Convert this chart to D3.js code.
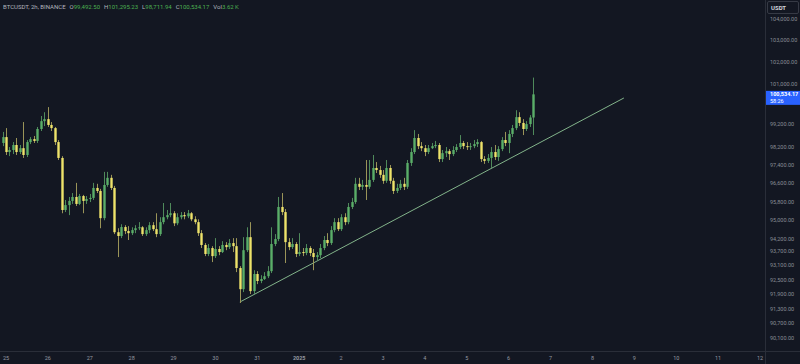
<!DOCTYPE html>
<html lang="en">
<head>
  <meta charset="utf-8">
  <title>BTCUSDT 2h</title>
  <script src="https://d3js.org/d3.v7.min.js"></script>
  <style>
    html, body { margin: 0; padding: 0; background: #131722; overflow: hidden; }
    svg { display: block; }
  </style>
</head>
<body>
<script>
// 2h candles, the first one opens Dec 24 22:00 UTC
var firstCandle = Date.UTC(2024, 11, 24, 22);
var stepHours = 2;
var firstOpen = 98360;

var closes = [
  98620, 97960, 98050, 98270, 97960, 98130, 97830, 98400, 98530, 98450,
  98980, 99330, 99420, 99160, 99020, 98400, 97700, 95440, 95650, 95830,
  96000, 95700, 96040, 95830, 95910, 95960, 96390, 96260, 95090, 96520,
  96830, 96390, 94490, 94330, 94710, 94540, 94450, 94580, 94660, 94700,
  94410, 94580, 94790, 94620, 94410, 94920, 95130, 95220, 95300, 94870,
  95130, 95220, 95170, 95300, 95040, 94920, 94450, 93950, 93570, 93820,
  93480, 93780, 93650, 93950, 93860, 94030, 93900, 92980, 92100, 93730,
  94280, 92020, 92730, 92440, 92520, 92640, 92850, 93990, 94200, 95570,
  95350, 94070, 93860, 93990, 93570, 93650, 93610, 93820, 93610, 93440,
  93520, 93820, 94160, 94030, 94580, 94920, 94620, 95130, 94920, 95570,
  95780, 96570, 96440, 96520, 96440, 96740, 97260, 97170, 96960, 96700,
  97260, 96700, 96260, 96390, 96570, 96440, 97480, 97960, 98580, 98220,
  98130, 97960, 98130, 98220, 98270, 97650, 97910, 98000, 97870, 98050,
  98180, 98360, 98220, 98180, 98220, 98310, 98400, 97650, 97570, 97700,
  97960, 97740, 98090, 98490, 98360, 98760, 99020, 99510, 99250, 98980,
  99200, 99492.5, 100534.17
];
var highs = [
  98850, 99020, 98180, 98400, 98580, 98270, 99290, 98490, 98620, 98670,
  99070, 99560, 99730, 99960, 99290, 99070, 98490, 97780, 95870, 96000,
  96170, 96610, 96130, 96090, 96040, 96130, 96610, 96570, 96350, 97090,
  97090, 96960, 96480, 94660, 94830, 94790, 94750, 94700, 94790, 94920,
  94750, 94700, 94920, 94920, 95300, 95130, 95740, 95440, 95740, 95390,
  95300, 95350, 95350, 95440, 95350, 95170, 95040, 94580, 94030, 93990,
  93900, 94240, 93900, 94110, 94070, 94200, 94240, 94240, 93060, 94280,
  94700, 94920, 92890, 92850, 92680, 92810, 93060, 94700, 94410, 96000,
  96170, 95480, 94240, 94240, 94070, 94450, 93820, 93990, 93900, 93780,
  93650, 93990, 94330, 94450, 94750, 95090, 95090, 95260, 95300, 95740,
  95960, 96830, 96830, 96740, 97610, 97610, 97830, 97520, 97350, 97170,
  97610, 97390, 96830, 96570, 96740, 96830, 97610, 98130, 98930, 98760,
  98400, 98270, 98270, 98360, 98450, 98360, 98050, 98180, 98090, 98220,
  98310, 98710, 98450, 98400, 98360, 98490, 98530, 98450, 97780, 97870,
  98180, 98270, 98220, 98620, 98850, 98930, 99160, 99820, 99730, 99420,
  99330, 99600, 101295.23
];
var lows = [
  98220, 97830, 97780, 97870, 97830, 97870, 97700, 97740, 98310, 98360,
  98360, 98890, 99110, 99070, 98890, 98270, 97610, 95300, 95350, 95220,
  95700, 95610, 95650, 95300, 95700, 95780, 95870, 96170, 94660, 95000,
  96440, 96300, 94410, 93440, 94240, 94410, 94160, 94370, 94450, 94580,
  94330, 94330, 94450, 94540, 94280, 94330, 94830, 95040, 95130, 94750,
  94790, 95040, 95040, 95090, 94960, 94830, 94330, 93820, 93480, 93480,
  93230, 93400, 93520, 93610, 93730, 93780, 93650, 92810, 91530, 91980,
  93650, 91900, 91900, 92310, 92350, 92480, 92560, 92770, 93900, 94110,
  95220, 93190, 93730, 93780, 93440, 93480, 93480, 93520, 93480, 92890,
  93310, 93400, 93730, 93900, 93950, 94490, 94540, 94540, 94790, 94830,
  95480, 95700, 96300, 96300, 95870, 96350, 96650, 97040, 96830, 96570,
  96610, 96570, 96130, 96170, 96300, 96300, 96350, 97350, 97870, 98090,
  98000, 97780, 97870, 98090, 98130, 97520, 97520, 97740, 97610, 97780,
  97960, 98090, 98090, 98050, 98050, 98130, 98180, 97520, 97440, 97480,
  97260, 97610, 97570, 98000, 98220, 97910, 98620, 98930, 99110, 98710,
  98890, 99070, 98711.94
];

var dayTicks = [
  Date.UTC(2024, 11, 25), Date.UTC(2024, 11, 26), Date.UTC(2024, 11, 27),
  Date.UTC(2024, 11, 28), Date.UTC(2024, 11, 29), Date.UTC(2024, 11, 30),
  Date.UTC(2024, 11, 31), Date.UTC(2025, 0, 1), Date.UTC(2025, 0, 2),
  Date.UTC(2025, 0, 3), Date.UTC(2025, 0, 4), Date.UTC(2025, 0, 5),
  Date.UTC(2025, 0, 6), Date.UTC(2025, 0, 7), Date.UTC(2025, 0, 8),
  Date.UTC(2025, 0, 9), Date.UTC(2025, 0, 10), Date.UTC(2025, 0, 11),
  Date.UTC(2025, 0, 12)
];
var dayLabels = ["25", "26", "27", "28", "29", "30", "31", "2025", "2", "3",
  "4", "5", "6", "7", "8", "9", "10", "11", "12"];

var priceTicks = [104000, 103000, 102000, 101000, 99200, 98200, 97400, 96600,
  95800, 95000, 94200, 93700, 93100, 92500, 91900, 91300, 90700, 90100];

var lastPrice = 100534.17;
var countdown = "58:26";

// hand drawn support line
var trendTimes = [Date.UTC(2024, 11, 30, 14), Date.UTC(2025, 0, 8, 18)];
var trendPrices = [91570, 100370];

var w = 800;
var h = 364;
var axisX = 765;   // left edge of price scale
var axisY = 351;   // top of time scale

var upColor = "#5aae68";
var downColor = "#eee36a";

var svg = d3.select("body").append("svg")
  .attr("width", w)
  .attr("height", h);

svg.append("rect")
  .attr("width", w)
  .attr("height", h)
  .attr("fill", "#131722");

var x = d3.scaleUtc()
  .domain([dayTicks[0], dayTicks[dayTicks.length - 1]])
  .range([6, 760]);

// log price scale like the original
var y = d3.scaleLog()
  .domain([104000, 90100])
  .range([19, 338]);

var candles = closes.map(function(c, i) {
  return {
    t: firstCandle + i * stepHours * 3600 * 1000,
    o: i === 0 ? firstOpen : closes[i - 1],
    h: highs[i],
    l: lows[i],
    c: c
  };
});

var plot = svg.append("g");

plot.append("line")
  .attr("x1", x(trendTimes[0]))
  .attr("y1", y(trendPrices[0]))
  .attr("x2", x(trendTimes[1]))
  .attr("y2", y(trendPrices[1]))
  .attr("stroke", "#8fc596")
  .attr("stroke-width", 0.9);

var bw = 2.4;

plot.selectAll("line.wick")
  .data(candles)
  .enter()
  .append("line")
  .attr("class", "wick")
  .attr("x1", function(d) { return Math.round(x(d.t)) + 0.5; })
  .attr("x2", function(d) { return Math.round(x(d.t)) + 0.5; })
  .attr("y1", function(d) { return y(Math.max(d.h, d.o, d.c)); })
  .attr("y2", function(d) { return y(Math.min(d.l, d.o, d.c)); })
  .attr("stroke", function(d) { return d.c >= d.o ? "#4f8a5b" : "#9a9458"; })
  .attr("stroke-width", 1);

plot.selectAll("rect.body")
  .data(candles)
  .enter()
  .append("rect")
  .attr("class", "body")
  .attr("x", function(d) { return Math.round(x(d.t)) + 0.5 - bw / 2; })
  .attr("width", bw)
  .attr("y", function(d) { return y(Math.max(d.o, d.c)); })
  .attr("height", function(d) { return Math.max(1, y(Math.min(d.o, d.c)) - y(Math.max(d.o, d.c))); })
  .attr("fill", function(d) { return d.c >= d.o ? upColor : downColor; });

// scale borders
svg.append("line")
  .attr("x1", 0).attr("x2", w)
  .attr("y1", axisY + 0.5).attr("y2", axisY + 0.5)
  .attr("stroke", "#2a2e39");
svg.append("line")
  .attr("x1", axisX + 0.5).attr("x2", axisX + 0.5)
  .attr("y1", 0).attr("y2", h)
  .attr("stroke", "#2a2e39");

var font = "Roboto, 'Liberation Sans', sans-serif";

// time labels
svg.selectAll("text.day")
  .data(dayTicks)
  .enter()
  .append("text")
  .attr("class", "day")
  .attr("x", function(d) { return x(d); })
  .attr("y", 360)
  .attr("text-anchor", "middle")
  .attr("font-family", font)
  .attr("font-size", 5.5)
  .attr("font-weight", function(d, i) { return dayLabels[i] === "2025" ? "bold" : "normal"; })
  .attr("fill", "#9598a1")
  .text(function(d, i) { return dayLabels[i]; });

// price labels
var fmt = d3.format(",.2f");
svg.selectAll("text.price")
  .data(priceTicks)
  .enter()
  .append("text")
  .attr("class", "price")
  .attr("x", 770)
  .attr("y", function(d) { return y(d) + 2; })
  .attr("font-family", font)
  .attr("font-size", 5.5)
  .attr("fill", "#8a8d96")
  .text(function(d) { return fmt(d); });

// currency box
svg.append("rect")
  .attr("x", axisX + 2.5).attr("y", 1.5)
  .attr("width", 31).attr("height", 12)
  .attr("rx", 1.5)
  .attr("fill", "#131722")
  .attr("stroke", "#363a45");
svg.append("text")
  .attr("x", 771).attr("y", 10)
  .attr("font-family", font)
  .attr("font-size", 6)
  .attr("font-weight", "bold")
  .attr("fill", "#d1d4dc")
  .text("USDT");

// last price tag
var py = y(lastPrice);
svg.append("rect")
  .attr("x", axisX + 1).attr("y", py - 3.5)
  .attr("width", w - axisX - 1).attr("height", 14)
  .attr("fill", "#2962ff");
svg.append("text")
  .attr("x", 770).attr("y", py + 2)
  .attr("font-family", font)
  .attr("font-size", 5.5)
  .attr("font-weight", "bold")
  .attr("fill", "#ffffff")
  .text(fmt(lastPrice));
svg.append("text")
  .attr("x", 770).attr("y", py + 8.5)
  .attr("font-family", font)
  .attr("font-size", 5.5)
  .attr("fill", "#ffffff")
  .text(countdown);

// legend line at the top
var last = candles[candles.length - 1];
var green = "#4caf50";
var legend = svg.append("text")
  .attr("x", 3).attr("y", 9)
  .attr("font-family", font)
  .attr("font-size", 6)
  .attr("fill", "#b2b5be");
legend.append("tspan").text("BTCUSDT, 2h, BINANCE");
[["O", last.o], ["H", last.h], ["L", last.l], ["C", last.c]].forEach(function(p) {
  legend.append("tspan").attr("dx", 4).text(p[0]);
  legend.append("tspan").attr("fill", green).text(fmt(p[1]));
});
legend.append("tspan").attr("dx", 4).text("Vol");
legend.append("tspan").attr("fill", green).text("3.62 K");
</script>
</body>
</html>
